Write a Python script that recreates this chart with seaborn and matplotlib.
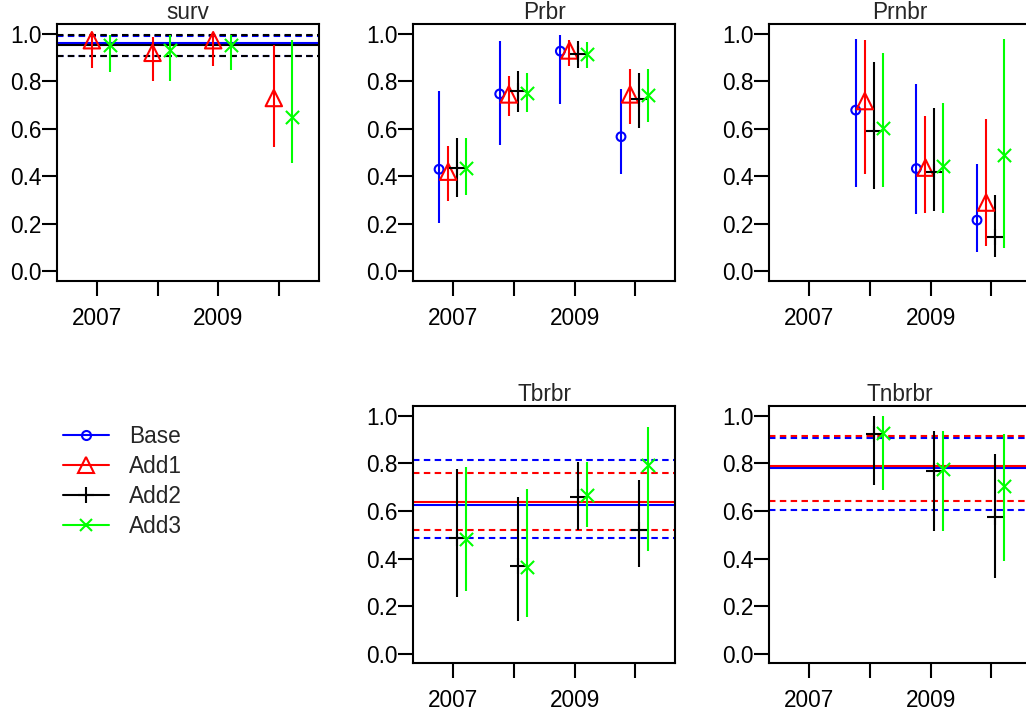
import numpy as np
import pandas as pd
import matplotlib
matplotlib.use("Agg")
import matplotlib.pyplot as plt
from matplotlib.lines import Line2D
import seaborn as sns

# ---------------- data ----------------
years = [2007, 2008, 2009, 2010]
series_names = ["Base", "Add1", "Add2", "Add3"]
series_colors = ["#0000FF", "#FF0000", "#000000", "#00FF00"]
series_markers = ["o", "^", "+", "x"]
series_offsets = [-0.235, -0.085, 0.06, 0.21]
xtick_labels = ["2007", "", "2009", ""]

# surv panel
surv_add1_est = [0.973, 0.920, 0.973, 0.730]
surv_add1_lo = [0.857, 0.800, 0.866, 0.525]
surv_add1_hi = [0.993, 0.987, 0.993, 0.955]
surv_add3_est = [0.955, 0.930, 0.955, 0.651]
surv_add3_lo = [0.840, 0.800, 0.847, 0.455]
surv_add3_hi = [0.994, 0.994, 0.994, 0.976]
surv_base_const = [0.962, 0.907, 0.992]   # est, lo, hi
surv_add2_const = [0.955, 0.905, 0.994]

# Prbr panel (2007-2010)
prbr_base_est = [0.430, 0.747, 0.927, 0.567]
prbr_base_lo = [0.206, 0.532, 0.703, 0.409]
prbr_base_hi = [0.760, 0.969, 0.994, 0.767]
prbr_add1_est = [0.420, 0.745, 0.930, 0.745]
prbr_add1_lo = [0.298, 0.655, 0.866, 0.620]
prbr_add1_hi = [0.528, 0.822, 0.976, 0.850]
prbr_add2_est = [0.434, 0.760, 0.915, 0.725]
prbr_add2_lo = [0.315, 0.672, 0.857, 0.602]
prbr_add2_hi = [0.560, 0.845, 0.969, 0.837]
prbr_add3_est = [0.436, 0.752, 0.915, 0.742]
prbr_add3_lo = [0.322, 0.672, 0.857, 0.630]
prbr_add3_hi = [0.560, 0.837, 0.966, 0.851]

# Prnbr panel (2008-2010)
prnbr_years = [2008, 2009, 2010]
prnbr_base_est = [0.679, 0.433, 0.216]
prnbr_base_lo = [0.356, 0.241, 0.084]
prnbr_base_hi = [0.980, 0.787, 0.454]
prnbr_add1_est = [0.717, 0.437, 0.290]
prnbr_add1_lo = [0.412, 0.248, 0.108]
prnbr_add1_hi = [0.972, 0.654, 0.640]
prnbr_add2_est = [0.591, 0.420, 0.147]
prnbr_add2_lo = [0.349, 0.255, 0.062]
prnbr_add2_hi = [0.881, 0.686, 0.321]
prnbr_add3_est = [0.605, 0.444, 0.489]
prnbr_add3_lo = [0.356, 0.248, 0.100]
prnbr_add3_hi = [0.920, 0.707, 0.980]

# Tbrbr panel (2007-2010)
tbrbr_add2_est = [0.487, 0.370, 0.657, 0.520]
tbrbr_add2_lo = [0.237, 0.139, 0.522, 0.363]
tbrbr_add2_hi = [0.776, 0.660, 0.807, 0.730]
tbrbr_add3_est = [0.482, 0.363, 0.667, 0.793]
tbrbr_add3_lo = [0.263, 0.153, 0.534, 0.431]
tbrbr_add3_hi = [0.783, 0.692, 0.807, 0.954]
tbrbr_base_const = [0.627, 0.487, 0.814]
tbrbr_add1_const = [0.636, 0.520, 0.760]

# Tnbrbr panel (2008-2010)
tnbrbr_years = [2008, 2009, 2010]
tnbrbr_add2_est = [0.922, 0.769, 0.576]
tnbrbr_add2_lo = [0.711, 0.517, 0.317]
tnbrbr_add2_hi = [1.000, 0.937, 0.838]
tnbrbr_add3_est = [0.926, 0.776, 0.706]
tnbrbr_add3_lo = [0.688, 0.517, 0.391]
tnbrbr_add3_hi = [1.000, 0.937, 0.923]
tnbrbr_base_const = [0.781, 0.604, 0.908]
tnbrbr_add1_const = [0.789, 0.643, 0.916]

panel_titles = ["surv", "Prbr", "Prnbr", "Tbrbr", "Tnbrbr"]
yticks = [0.0, 0.2, 0.4, 0.6, 0.8, 1.0]

# ---------------- style ----------------
sns.set_style("ticks")
plt.rcParams["font.family"] = ["Liberation Sans", "DejaVu Sans"]
FS = 16.3
LW = 1.5

W, H = 1026, 711
fig = plt.figure(figsize=(W / 100, H / 100), dpi=100)


def make_ax(left_px, top_px, bottom_px, width_px=262):
    rect = [left_px / W, (H - bottom_px) / H, width_px / W, (bottom_px - top_px) / H]
    ax = fig.add_axes(rect)
    ax.set_xlim(2006.34, 2010.66)
    ax.set_ylim(-0.04, 1.04)
    ax.set_xticks(years)
    ax.set_xticklabels(xtick_labels)
    ax.set_yticks(yticks)
    ax.set_yticklabels([f"{v:.1f}" for v in yticks])
    ax.tick_params(axis="both", direction="out", length=10.8, width=LW,
                   labelsize=FS, color="black", labelcolor="black")
    ax.tick_params(axis="y", pad=0.3)
    ax.tick_params(axis="x", pad=8)
    for sp in ax.spines.values():
        sp.set_visible(True)
        sp.set_linewidth(LW)
        sp.set_color("black")
    ax.set_xlabel("")
    ax.set_ylabel("")
    return ax


def draw_series(ax, idx, yrs, est, lo, hi):
    col = series_colors[idx]
    x = np.array(yrs, dtype=float) + series_offsets[idx]
    ax.vlines(x, lo, hi, colors=col, linewidth=LW, zorder=2)
    df = pd.DataFrame({"x": x, "y": est})
    mk = series_markers[idx]
    sizes = {"o": 40, "^": 140, "+": 120, "x": 90}
    if mk in ("o", "^"):
        sns.scatterplot(data=df, x="x", y="y", ax=ax, marker=mk, s=sizes[mk],
                        color=col, facecolor="none", edgecolor=col,
                        linewidth=LW, legend=False, zorder=3, clip_on=False)
    else:
        sns.scatterplot(data=df, x="x", y="y", ax=ax, marker=mk, s=sizes[mk],
                        color=col, linewidth=LW, legend=False, zorder=3,
                        clip_on=False)
    ax.set_xlabel("")
    ax.set_ylabel("")


def draw_const(ax, idx, vals):
    col = series_colors[idx]
    est, lo, hi = vals
    ax.axhline(est, color=col, linewidth=LW, zorder=1)
    for v in (lo, hi):
        ax.axhline(v, color=col, linewidth=LW, linestyle=(0, (3.1, 2.1)), zorder=1)


def set_title(ax, t):
    ax.set_title(t, fontsize=FS, pad=1.0)


col_left = [57, 413.3, 769.3]
row1 = (24.3, 281)
row2 = (406.3, 663.3)

# surv
ax = make_ax(col_left[0], *row1)
draw_const(ax, 0, surv_base_const)
draw_const(ax, 2, surv_add2_const)
draw_series(ax, 1, years, surv_add1_est, surv_add1_lo, surv_add1_hi)
draw_series(ax, 3, years, surv_add3_est, surv_add3_lo, surv_add3_hi)
set_title(ax, panel_titles[0])

# Prbr
ax = make_ax(col_left[1], *row1)
draw_series(ax, 0, years, prbr_base_est, prbr_base_lo, prbr_base_hi)
draw_series(ax, 1, years, prbr_add1_est, prbr_add1_lo, prbr_add1_hi)
draw_series(ax, 2, years, prbr_add2_est, prbr_add2_lo, prbr_add2_hi)
draw_series(ax, 3, years, prbr_add3_est, prbr_add3_lo, prbr_add3_hi)
set_title(ax, panel_titles[1])

# Prnbr
ax = make_ax(col_left[2], *row1)
draw_series(ax, 0, prnbr_years, prnbr_base_est, prnbr_base_lo, prnbr_base_hi)
draw_series(ax, 1, prnbr_years, prnbr_add1_est, prnbr_add1_lo, prnbr_add1_hi)
draw_series(ax, 2, prnbr_years, prnbr_add2_est, prnbr_add2_lo, prnbr_add2_hi)
draw_series(ax, 3, prnbr_years, prnbr_add3_est, prnbr_add3_lo, prnbr_add3_hi)
set_title(ax, panel_titles[2])

# Tbrbr
ax = make_ax(col_left[1], *row2)
draw_const(ax, 0, tbrbr_base_const)
draw_const(ax, 1, tbrbr_add1_const)
draw_series(ax, 2, years, tbrbr_add2_est, tbrbr_add2_lo, tbrbr_add2_hi)
draw_series(ax, 3, years, tbrbr_add3_est, tbrbr_add3_lo, tbrbr_add3_hi)
set_title(ax, panel_titles[3])

# Tnbrbr
ax = make_ax(col_left[2], *row2)
draw_const(ax, 0, tnbrbr_base_const)
draw_const(ax, 1, tnbrbr_add1_const)
draw_series(ax, 2, tnbrbr_years, tnbrbr_add2_est, tnbrbr_add2_lo, tnbrbr_add2_hi)
draw_series(ax, 3, tnbrbr_years, tnbrbr_add3_est, tnbrbr_add3_lo, tnbrbr_add3_hi)
set_title(ax, panel_titles[4])

# legend
leg_ms = {"o": 6.5, "^": 11, "+": 11, "x": 9}
handles = [Line2D([], [], color=c, marker=m, markersize=leg_ms[m],
                  markerfacecolor="none", markeredgewidth=LW, linewidth=LW)
           for c, m in zip(series_colors, series_markers)]
fig.legend(handles, series_names, loc="upper left",
           bbox_to_anchor=(63 / W, 1 - 425 / H), frameon=False,
           fontsize=FS, handlelength=2.03, handletextpad=0.9,
           labelspacing=0.31, borderpad=0, borderaxespad=0)

fig.savefig("out.png", dpi=100)
